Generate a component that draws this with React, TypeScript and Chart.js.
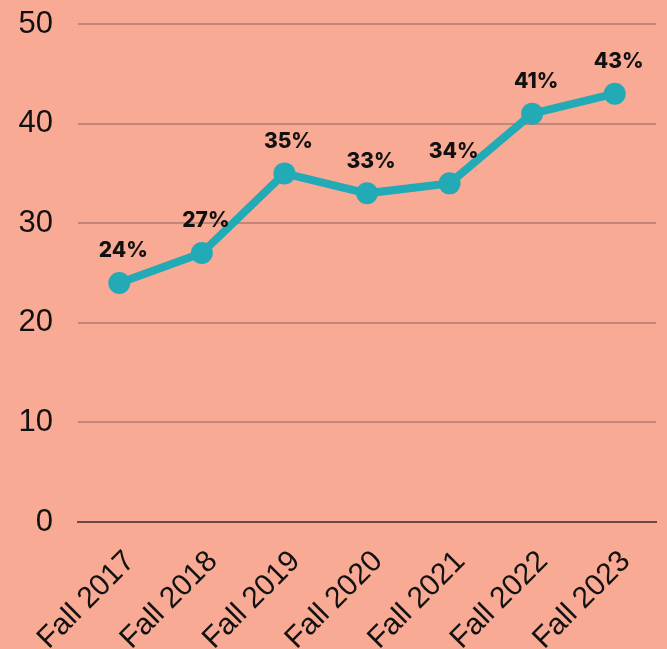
import React, { useEffect, useRef } from "react";
import { Chart, registerables } from "chart.js";

Chart.register(...registerables);

const categories = ["Fall 2017", "Fall 2018", "Fall 2019", "Fall 2020", "Fall 2021", "Fall 2022", "Fall 2023"];
const values = [24, 27, 35, 33, 34, 41, 43];
const valueLabels = ["24%", "27%", "35%", "33%", "34%", "41%", "43%"];

const BG = "#F8AA94";
const LINE = "#22AAB6";

const labelPlugin = {
  id: "valueLabels",
  afterDatasetsDraw(chart: any) {
    const ctx = chart.ctx;
    const meta = chart.getDatasetMeta(0);
    ctx.save();
    ctx.font = "800 21px Inter, Roboto, 'Liberation Sans', sans-serif";
    ctx.fillStyle = "#111111";
    ctx.textAlign = "center";
    ctx.textBaseline = "middle";
    meta.data.forEach((pt: any, i: number) => {
      ctx.fillText(valueLabels[i], pt.x + 4, pt.y - 32);
    });
    ctx.restore();
  },
};

export default function App() {
  const ref = useRef<HTMLCanvasElement>(null);
  useEffect(() => {
    document.body.style.margin = "0";
    document.body.style.background = BG;
    const chart = new Chart(ref.current!, {
      type: "line",
      data: {
        labels: categories,
        datasets: [
          {
            data: values,
            borderColor: LINE,
            backgroundColor: LINE,
            borderWidth: 8,
            pointRadius: 11,
            pointHoverRadius: 11,
            pointBackgroundColor: LINE,
            pointBorderWidth: 0,
            tension: 0,
          },
        ],
      },
      options: {
        animation: false,
        responsive: false,
        maintainAspectRatio: false,
        layout: { padding: { top: 24, right: 0, left: 0, bottom: 0 } },
        plugins: { legend: { display: false }, tooltip: { enabled: false } },
        scales: {
          x: {
            offset: true,
            grid: { display: false, drawTicks: false },
            border: { display: true, color: "#6B4B41", width: 2 },
            afterFit: (s: any) => {
              s.height = 127;
              s.paddingLeft = 0;
              s.paddingRight = 0;
            },
            ticks: {
              color: "#111111",
              font: { family: "'Liberation Sans', Arial, sans-serif", size: 30 },
              maxRotation: 45,
              minRotation: 45,
              padding: 22,
              labelOffset: 11,
              autoSkip: false,
            },
          },
          y: {
            min: 0,
            max: 50,
            grid: { color: "#C0877A", lineWidth: 2, drawTicks: false },
            border: { display: false },
            afterFit: (s: any) => {
              s.paddingTop = 0;
              s.paddingBottom = 0;
              s.width = 78;
            },
            ticks: {
              stepSize: 10,
              color: "#111111",
              font: { family: "'Liberation Sans', Arial, sans-serif", size: 31 },
              padding: 25,
            },
          },
        },
      },
      plugins: [labelPlugin],
    });
    return () => chart.destroy();
  }, []);
  return (
    <div style={{ position: "fixed", left: 0, top: 0, width: 667, height: 649, background: BG }}>
      <canvas ref={ref} width={667} height={649} style={{ display: "block" }} />
    </div>
  );
}
